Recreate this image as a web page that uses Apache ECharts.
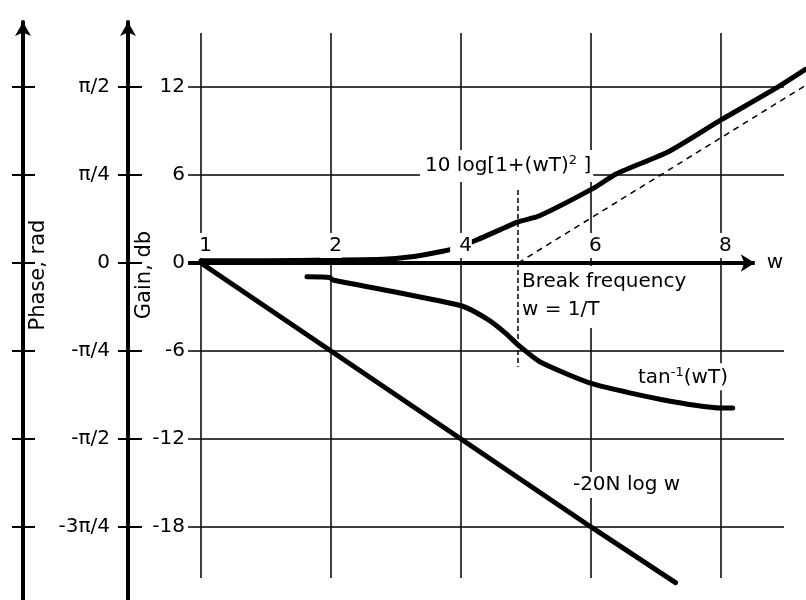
<!DOCTYPE html>
<html><head><meta charset="utf-8">
<script src="https://cdn.jsdelivr.net/npm/echarts@6/dist/echarts.min.js"></script>
<style>html,body{margin:0;padding:0;background:#fff}#c{width:806px;height:600px}</style>
</head><body><div id="c"></div>
<script>
// x position index: 0..4 correspond to frequency tick labels 1,2,4,6,8
const xTickValues = [0, 1, 2, 3, 4];
const xTickLabels = ['1', '2', '4', '6', '8'];
const gainTickValues = [12, 6, 0, -6, -12, -18];
const gainTickLabels = ['12', '6', '0', '-6', '-12', '-18'];
const phaseTickValues = [Math.PI / 2, Math.PI / 4, 0, -Math.PI / 4, -Math.PI / 2, -3 * Math.PI / 4];
const phaseTickLabels = ['π/2', 'π/4', '0', '-π/4', '-π/2', '-3π/4'];
// gain curve 10 log[1+(wT)^2]  (db)
const gainCurve = [[0, 0.15], [0.5, 0.15], [1.0, 0.2], [1.4, 0.25], [1.6, 0.4], [1.8, 0.7], [1.95, 1.0], [2.13, 1.6], [2.44, 2.8], [2.6, 3.2], [3.02, 5.1], [3.2, 6.1], [3.6, 7.6], [4.0, 9.75], [4.42, 11.9], [4.65, 13.2]];
// high-frequency asymptote (dashed)
const asymptote = [[2.44, 0], [4.65, 12.1]];
// phase curve tan^-1(wT)  (rad)
const phaseCurve = [[0.815, -0.124], [0.99, -0.13], [1.015, -0.152], [1.53, -0.268], [2.008, -0.384], [2.2, -0.5], [2.34, -0.624], [2.44, -0.732], [2.61, -0.884], [3.015, -1.08], [3.6, -1.232], [4.0, -1.295], [4.09, -1.295]];
// -20N log w  (db)
const slopeLine = [[0, 0], [1, -6], [2, -12], [3, -18], [3.65, -21.8]];
const breakFreq = 2.44;

const FONT = 'DejaVu Sans';
const gainMin = -22.98, gainMax = 16.43;
const toPhase = g => g * Math.PI / 24;
const xMin = -0.1, xMax = 4.654;
const vGridTop = 15.68, vGridBottom = -21.48, hGridEnd = 4.485;
const GRID_TOP = 22, GRID_H = 578;
// distance from the grid top down to the gain = 0 level (x axis sits there)
const zeroOffset = GRID_H * gainMax / (gainMax - gainMin);

function labelFor(values, labels) {
  return v => {
    for (let i = 0; i < values.length; i++) if (Math.abs(values[i] - v) < 1e-6) return labels[i];
    return '';
  };
}
const txt = { color: '#000', fontFamily: FONT, fontSize: 20 };

const chart = echarts.init(document.getElementById('c'));
const option = {
  animation: false,
  backgroundColor: '#fff',
  grid: { left: 188, right: 0, top: GRID_TOP, height: GRID_H },
  xAxis: {
    type: 'value', min: xMin, max: xMax, z: 10,
    position: 'top', offset: -zeroOffset,
    axisLine: { show: false, onZero: false },
    axisTick: { show: false, customValues: xTickValues },
    splitLine: { show: false },
    axisLabel: Object.assign({
      show: true, inside: false, customValues: xTickValues,
      formatter: labelFor(xTickValues, xTickLabels),
      margin: 5, padding: [2, 0, 1, 9], backgroundColor: '#fff', lineHeight: 22
    }, txt)
  },
  yAxis: [
    { type: 'value', min: gainMin, max: gainMax, show: false, axisLine: { onZero: false } },
    {
      type: 'value', min: gainMin, max: gainMax, position: 'left', offset: 60,
      axisLine: { show: true, onZero: false, symbol: ['none', 'arrow'], symbolSize: [12, 14], lineStyle: { color: '#000', width: 4 } },
      axisTick: { show: true, inside: false, length: 10, customValues: gainTickValues, lineStyle: { color: '#000', width: 2 } },
      axisLabel: Object.assign({ show: true, inside: true, align: 'right', margin: 57, customValues: gainTickValues, formatter: labelFor(gainTickValues, gainTickLabels) }, txt),
      splitLine: { show: false }
    },
    {
      type: 'value', min: gainMin, max: gainMax, position: 'left', offset: 60,
      axisLine: { show: false, onZero: false },
      axisTick: { show: true, inside: true, length: 14, customValues: gainTickValues, lineStyle: { color: '#000', width: 2 } },
      axisLabel: { show: false }, splitLine: { show: false }
    },
    {
      type: 'value', min: toPhase(gainMin), max: toPhase(gainMax), position: 'left', offset: 165,
      axisLine: { show: true, onZero: false, symbol: ['none', 'arrow'], symbolSize: [12, 14], lineStyle: { color: '#000', width: 4 } },
      axisTick: { show: true, inside: false, length: 11, customValues: phaseTickValues, lineStyle: { color: '#000', width: 2 } },
      axisLabel: Object.assign({ show: true, inside: true, align: 'right', margin: 87, customValues: phaseTickValues, formatter: labelFor(phaseTickValues, phaseTickLabels) }, txt),
      splitLine: { show: false }
    },
    {
      type: 'value', min: toPhase(gainMin), max: toPhase(gainMax), position: 'left', offset: 165,
      axisLine: { show: false, onZero: false },
      axisTick: { show: true, inside: true, length: 12, customValues: phaseTickValues, lineStyle: { color: '#000', width: 2 } },
      axisLabel: { show: false }, splitLine: { show: false }
    }
  ],
  graphic: [
    { type: 'text', x: 39, y: 275, rotation: Math.PI / 2, style: { text: 'Phase, rad', fill: '#000', font: '21px "DejaVu Sans"', textAlign: 'center', textVerticalAlign: 'middle' } },
    { type: 'text', x: 145, y: 275, rotation: Math.PI / 2, style: { text: 'Gain, db', fill: '#000', font: '21px "DejaVu Sans"', textAlign: 'center', textVerticalAlign: 'middle' } }
  ],
  series: [
    {
      name: 'grid', type: 'line', data: [], z: 1, silent: true,
      markLine: {
        z: 1, silent: true, symbol: 'none', label: { show: false },
        lineStyle: { color: '#000', width: 1.5, type: 'solid' },
        emphasis: { disabled: true },
        data: xTickValues.map(v => [{ coord: [v, vGridTop] }, { coord: [v, vGridBottom] }])
          .concat(gainTickValues.filter(v => v !== 0).map(v => [{ coord: [xMin, v] }, { coord: [hGridEnd, v] }]))
          .concat([[{ coord: [breakFreq, 4.98], lineStyle: { type: [5, 3], width: 1.5 } }, { coord: [breakFreq, -7.09] }]])
      }
    },
    {
      name: 'axis', type: 'line', data: [], z: 4, silent: true,
      markLine: {
        z: 4, silent: true, symbol: ['none', 'arrow'], symbolSize: [13, 14],
        lineStyle: { color: '#000', width: 4, type: 'solid' },
        emphasis: { disabled: true },
        label: Object.assign({ show: true, position: 'end', formatter: 'w', distance: 12 }, txt),
        data: [[{ coord: [xMin, 0] }, { coord: [4.26, 0] }]]
      }
    },
    { name: 'asymptote', type: 'line', data: asymptote, symbol: 'none', z: 2, silent: true, lineStyle: { color: '#000', width: 1.5, type: [6, 5] } },
    { name: 'gain', type: 'line', data: gainCurve, symbol: 'none', smooth: 0.2, z: 3, silent: true, lineStyle: { color: '#000', width: 5, cap: 'round' } },
    { name: 'phase', type: 'line', yAxisIndex: 3, data: phaseCurve, symbol: 'none', smooth: 0.2, z: 3, silent: true, lineStyle: { color: '#000', width: 5, cap: 'round' } },
    { name: 'slope', type: 'line', data: slopeLine, symbol: 'none', z: 3, silent: true, lineStyle: { color: '#000', width: 5, cap: 'round' } },
    {
      name: 'notes', type: 'line', data: [], z: 20, silent: true,
      markPoint: {
        z: 20, silent: true, symbol: 'circle', symbolSize: 0,
        label: Object.assign({
          show: true, position: 'right', distance: 0, align: 'left', verticalAlign: 'middle',
          backgroundColor: '#fff',
          rich: {
            a: { color: '#000', fontFamily: FONT, fontSize: 20, lineHeight: 24 },
            s: { color: '#000', fontFamily: FONT, fontSize: 13, lineHeight: 13, verticalAlign: 'top' }
          }
        }, txt),
        data: [
          { coord: [1.685, 6.61], label: { formatter: '{a|10 log[1+(wT)}{s|2}{a| ]}', padding: [4, 2, 4, 5] } },
          { coord: [2.454, -2.32], label: { formatter: 'Break frequency\nw = 1/T', lineHeight: 28, padding: [2, 4, 4, 2] } },
          { coord: [3.331, -7.75], label: { formatter: '{a|tan}{s|-1}{a|(wT)}', padding: [3, 2, 0, 4] } },
          { coord: [2.838, -15.14], label: { formatter: '-20N log w', padding: [3, 2, 3, 3] } }
        ]
      }
    }
  ]
};
chart.setOption(option);
</script>
</body></html>
